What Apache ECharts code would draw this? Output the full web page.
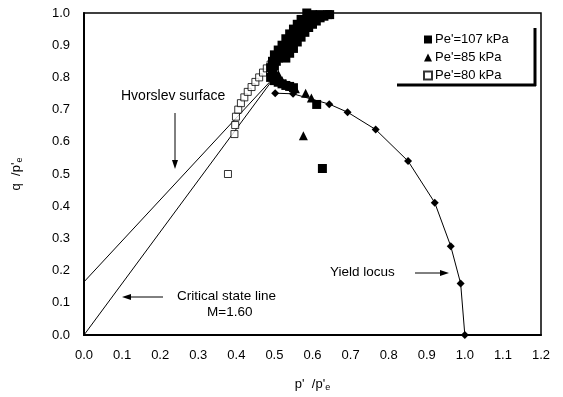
<!DOCTYPE html>
<html>
<head>
<meta charset="utf-8">
<script src="https://cdn.jsdelivr.net/npm/echarts@6/dist/echarts.min.js"></script>
<style>
  html, body { margin: 0; padding: 0; background: #fff; }
  #chart { width: 563px; height: 397px; }
</style>
</head>
<body>
<div id="chart"></div>
<script>
// Normalised stress paths: p'/p'e (x) against q/p'e (y)
const xTicks = [0.0, 0.1, 0.2, 0.3, 0.4, 0.5, 0.6, 0.7, 0.8, 0.9, 1.0, 1.1, 1.2];
const yTicks = [0.0, 0.1, 0.2, 0.3, 0.4, 0.5, 0.6, 0.7, 0.8, 0.9, 1.0];

// Yield locus (diamonds joined by a line)
const yieldP = [0.502, 0.549, 0.644, 0.692, 0.766, 0.851, 0.921, 0.963, 0.989, 1.0];
const yieldQ = [0.751, 0.749, 0.717, 0.692, 0.638, 0.540, 0.411, 0.276, 0.160, 0.0];

// Critical state line, M = 1.60
const cslP = [0.0, 0.505];
const cslQ = [0.0, 0.808];

// Hvorslev surface
const hvP = [0.0, 0.505];
const hvQ = [0.165, 0.808];

// Pe' = 107 kPa (filled squares)
const p107 = [0.490, 0.495, 0.500, 0.505, 0.510, 0.520, 0.525, 0.530, 0.540, 0.545, 0.550, 0.555, 0.560, 0.570, 0.575, 0.580, 0.585, 0.590, 0.585, 0.600, 0.610, 0.620, 0.630, 0.640, 0.645,
              0.530, 0.540, 0.550, 0.560, 0.570, 0.580, 0.590, 0.600, 0.610, 0.620,
              0.490, 0.495, 0.500, 0.510, 0.520, 0.530, 0.540, 0.550, 0.560, 0.570,
              0.500, 0.510, 0.520, 0.530, 0.540, 0.550, 0.611, 0.626];
const q107 = [0.800, 0.820, 0.835, 0.850, 0.860, 0.870, 0.880, 0.890, 0.900, 0.910, 0.920, 0.930, 0.940, 0.950, 0.960, 0.970, 0.980, 0.990, 1.000, 0.995, 0.990, 0.995, 0.990, 0.995, 0.995,
              0.860, 0.875, 0.890, 0.910, 0.925, 0.940, 0.955, 0.965, 0.975, 0.985,
              0.830, 0.850, 0.870, 0.885, 0.900, 0.920, 0.935, 0.950, 0.965, 0.980,
              0.790, 0.785, 0.780, 0.775, 0.772, 0.768, 0.716, 0.517];

// Pe' = 85 kPa (filled triangles)
const p85 = [0.500, 0.505, 0.510, 0.520, 0.530, 0.545, 0.555, 0.582, 0.597, 0.576];
const q85 = [0.800, 0.790, 0.810, 0.790, 0.780, 0.772, 0.765, 0.751, 0.736, 0.619];

// Pe' = 80 kPa (open squares)
const p80 = [0.378, 0.395, 0.397, 0.399, 0.405, 0.412, 0.421, 0.430, 0.440, 0.450, 0.460, 0.470, 0.480, 0.490];
const q80 = [0.500, 0.624, 0.652, 0.678, 0.700, 0.720, 0.738, 0.755, 0.770, 0.786, 0.800, 0.815, 0.828, 0.840];

const legendNames = ["Pe'=107 kPa", "Pe'=85 kPa", "Pe'=80 kPa"];

const zip = (a, b) => a.map((v, i) => [v, b[i]]);
const FONT = 'Liberation Sans, Arial, sans-serif';

const chart = echarts.init(document.getElementById('chart'), null, { renderer: 'canvas' });

const titleStyle = {
  fontFamily: FONT, fontSize: 13, color: '#000',
  rich: { s: { fontFamily: FONT, fontSize: 9, color: '#000', verticalAlign: 'bottom', padding: [7, 0, 0, 0] } }
};

const option = {
  backgroundColor: '#fff',
  animation: false,
  textStyle: { fontFamily: FONT, color: '#000' },
  grid: {
    left: 84, right: 22, top: 13, bottom: 61,
    show: true, borderColor: '#000', borderWidth: 1.5, backgroundColor: 'transparent'
  },
  xAxis: {
    type: 'value', min: 0, max: 1.2, interval: 0.1,
    name: "p'  /p'{s|e}", nameLocation: 'middle', nameGap: 41,
    nameTextStyle: titleStyle,
    axisLine: { lineStyle: { color: '#000', width: 2 } },
    axisTick: { show: false },
    splitLine: { show: false },
    axisLabel: { color: '#000', fontSize: 13, fontFamily: FONT, margin: 14,
      formatter: v => v.toFixed(1) }
  },
  yAxis: {
    type: 'value', min: 0, max: 1, interval: 0.1,
    name: "q  /p'{s|e}", nameLocation: 'middle', nameGap: 60, nameRotate: 90,
    nameTextStyle: titleStyle,
    axisLine: { lineStyle: { color: '#000', width: 2 } },
    axisTick: { show: false },
    splitLine: { show: false },
    axisLabel: { color: '#000', fontSize: 13, fontFamily: FONT, margin: 14,
      formatter: v => v.toFixed(1) }
  },
  legend: {
    orient: 'vertical', left: 418, top: 28,
    itemWidth: 8, itemHeight: 8, itemGap: 5,
    textStyle: { fontFamily: FONT, fontSize: 13, color: '#000', padding: [0, 0, 0, -2] },
    data: [
      { name: legendNames[0], icon: 'rect' },
      { name: legendNames[1], icon: 'triangle' },
      { name: legendNames[2], icon: 'rect' }
    ]
  },
  series: [
    {
      name: 'Critical state line', type: 'line', data: zip(cslP, cslQ),
      showSymbol: false, lineStyle: { color: '#000', width: 1 }, z: 2, silent: true
    },
    {
      name: 'Hvorslev surface', type: 'line', data: zip(hvP, hvQ),
      showSymbol: false, lineStyle: { color: '#000', width: 1 }, z: 2, silent: true
    },
    {
      name: 'Yield locus', type: 'line', data: zip(yieldP, yieldQ),
      symbol: 'diamond', symbolSize: 8, showAllSymbol: true,
      lineStyle: { color: '#000', width: 1 }, itemStyle: { color: '#000' }, z: 3
    },
    {
      name: legendNames[2], type: 'scatter', data: zip(p80, q80),
      symbol: 'rect', symbolSize: 7,
      itemStyle: { color: '#fff', borderColor: '#000', borderWidth: 1 }, z: 4
    },
    {
      name: legendNames[0], type: 'scatter', data: zip(p107, q107),
      symbol: 'rect', symbolSize: 9, itemStyle: { color: '#000', opacity: 1 }, z: 5
    },
    {
      name: legendNames[1], type: 'scatter', data: zip(p85, q85),
      symbol: 'triangle', symbolSize: 9, itemStyle: { color: '#000', opacity: 1 }, z: 6
    }
  ],
  graphic: [
    // legend frame (heavy right and bottom edges)
    { type: 'line', shape: { x1: 535, y1: 28, x2: 535, y2: 86 }, style: { stroke: '#000', lineWidth: 3 } },
    { type: 'line', shape: { x1: 397, y1: 85, x2: 536, y2: 85 }, style: { stroke: '#000', lineWidth: 3 } },

    // Hvorslev surface label and arrow
    { type: 'text', x: 121, y: 89, style: { text: 'Hvorslev surface', font: '14px ' + FONT, fill: '#000' } },
    { type: 'line', shape: { x1: 175, y1: 113, x2: 175, y2: 166 }, style: { stroke: '#000', lineWidth: 1 } },
    { type: 'polygon', shape: { points: [[172, 160], [178, 160], [175, 169]] }, style: { fill: '#000' } },

    // Critical state line label and arrow
    { type: 'text', x: 177, y: 289, style: { text: 'Critical state line', font: '13.5px ' + FONT, fill: '#000' } },
    { type: 'text', x: 207, y: 305, style: { text: 'M=1.60', font: '13.5px ' + FONT, fill: '#000' } },
    { type: 'line', shape: { x1: 163, y1: 297, x2: 127, y2: 297 }, style: { stroke: '#000', lineWidth: 1 } },
    { type: 'polygon', shape: { points: [[131, 294], [131, 300], [122, 297]] }, style: { fill: '#000' } },

    // Yield locus label and arrow
    { type: 'text', x: 330, y: 265, style: { text: 'Yield locus', font: '13.5px ' + FONT, fill: '#000' } },
    { type: 'line', shape: { x1: 415, y1: 273, x2: 444, y2: 273 }, style: { stroke: '#000', lineWidth: 1 } },
    { type: 'polygon', shape: { points: [[440, 270], [440, 276], [449, 273]] }, style: { fill: '#000' } }
  ]
};

chart.setOption(option);
</script>
</body>
</html>
